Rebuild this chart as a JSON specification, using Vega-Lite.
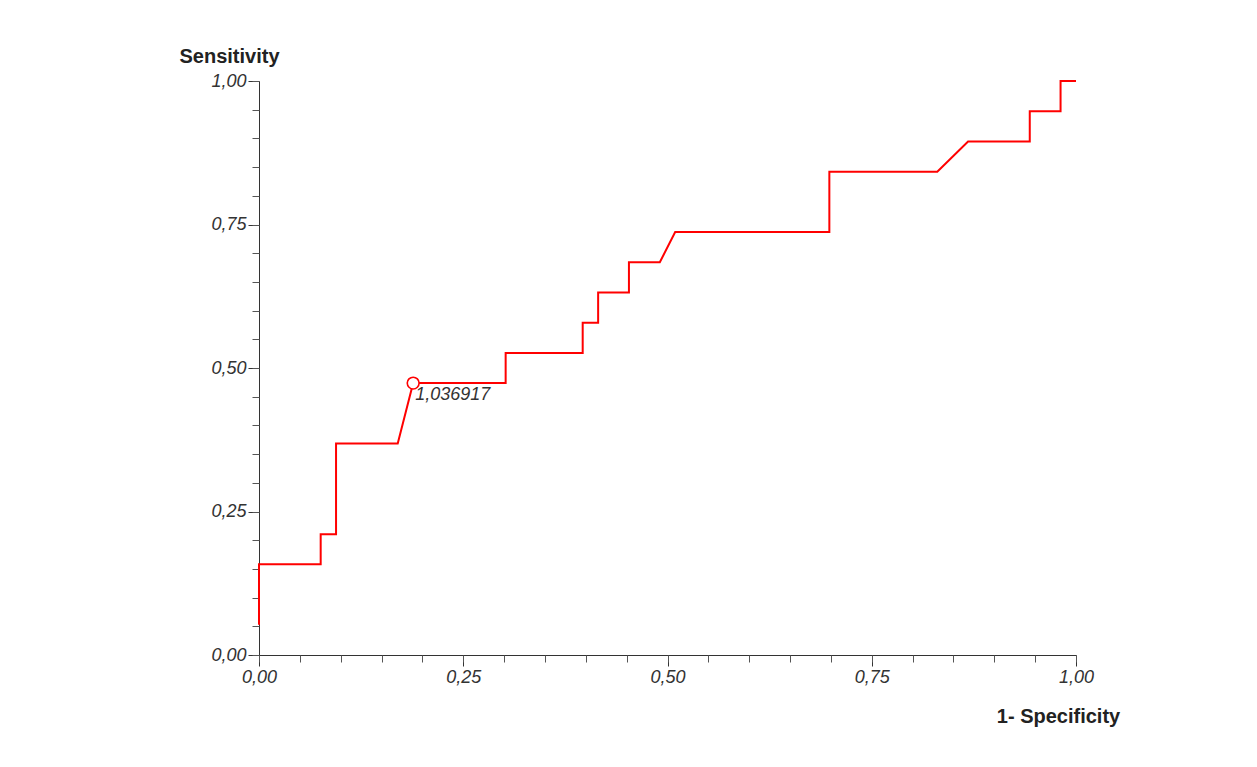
{
  "$schema": "https://vega.github.io/schema/vega-lite/v6.json",
  "width": 817,
  "height": 574,
  "autosize": "none",
  "padding": {"left": 259, "top": 81, "right": 181, "bottom": 112},
  "background": "white",
  "config": {
    "view": {"stroke": null},
    "font": "Liberation Sans",
    "axis": {"grid": false}
  },
  "datasets": {
    "roc": [
      {"step": 1, "fpr": 0.0, "sens": 0.0526},
      {"step": 2, "fpr": 0.0, "sens": 0.1579},
      {"step": 3, "fpr": 0.0755, "sens": 0.1579},
      {"step": 4, "fpr": 0.0755, "sens": 0.2105},
      {"step": 5, "fpr": 0.0943, "sens": 0.2105},
      {"step": 6, "fpr": 0.0943, "sens": 0.3684},
      {"step": 7, "fpr": 0.1698, "sens": 0.3684},
      {"step": 8, "fpr": 0.1887, "sens": 0.4737},
      {"step": 9, "fpr": 0.3019, "sens": 0.4737},
      {"step": 10, "fpr": 0.3019, "sens": 0.5263},
      {"step": 11, "fpr": 0.3962, "sens": 0.5263},
      {"step": 12, "fpr": 0.3962, "sens": 0.5789},
      {"step": 13, "fpr": 0.4151, "sens": 0.5789},
      {"step": 14, "fpr": 0.4151, "sens": 0.6316},
      {"step": 15, "fpr": 0.4528, "sens": 0.6316},
      {"step": 16, "fpr": 0.4528, "sens": 0.6842},
      {"step": 17, "fpr": 0.4906, "sens": 0.6842},
      {"step": 18, "fpr": 0.5094, "sens": 0.7368},
      {"step": 19, "fpr": 0.6981, "sens": 0.7368},
      {"step": 20, "fpr": 0.6981, "sens": 0.8421},
      {"step": 21, "fpr": 0.8302, "sens": 0.8421},
      {"step": 22, "fpr": 0.8679, "sens": 0.8947},
      {"step": 23, "fpr": 0.9434, "sens": 0.8947},
      {"step": 24, "fpr": 0.9434, "sens": 0.9474},
      {"step": 25, "fpr": 0.9811, "sens": 0.9474},
      {"step": 26, "fpr": 0.9811, "sens": 1.0},
      {"step": 27, "fpr": 1.0, "sens": 1.0}
    ],
    "cutoff": [
      {"fpr": 0.1887, "sens": 0.4737, "label": "1,036917"}
    ]
  },
  "resolve": {"scale": {"x": "shared", "y": "shared"}, "axis": {"x": "independent", "y": "independent"}},
  "layer": [
    {
      "data": {"name": "roc"},
      "mark": {"type": "line", "color": "#ff0000", "strokeWidth": 2, "interpolate": "linear"},
      "encoding": {
        "order": {"field": "step", "type": "quantitative"},
        "x": {
          "field": "fpr", "type": "quantitative",
          "scale": {"domain": [0, 1], "nice": false, "zero": false},
          "axis": {
            "orient": "bottom",
            "values": [0, 0.25, 0.5, 0.75, 1],
            "labelExpr": "replace(format(datum.value, '.2f'), '.', ',')",
            "tickSize": 11, "tickColor": "#333333", "domainColor": "#333333",
            "labelFontStyle": "italic", "labelFontSize": 18, "labelColor": "#333333",
            "labelPadding": 2, "labelFlush": false,
            "title": "1- Specificity", "titleFontSize": 20, "titleFontWeight": "bold",
            "titleColor": "#222222", "titleX": 799, "titleY": 67,
            "titleAlign": "center", "titleBaseline": "alphabetic"
          }
        },
        "y": {
          "field": "sens", "type": "quantitative",
          "scale": {"domain": [0, 1], "nice": false, "zero": false},
          "axis": {
            "orient": "left",
            "values": [0, 0.25, 0.5, 0.75, 1],
            "labelExpr": "replace(format(datum.value, '.2f'), '.', ',')",
            "tickSize": 11, "tickColor": "#333333", "domainColor": "#333333",
            "labelFontStyle": "italic", "labelFontSize": 18, "labelColor": "#333333",
            "labelPadding": 2, "labelFlush": false,
            "title": "Sensitivity", "titleFontSize": 20, "titleFontWeight": "bold",
            "titleColor": "#222222", "titleAngle": 0, "titleX": -30, "titleY": -19,
            "titleAlign": "center", "titleBaseline": "alphabetic"
          }
        }
      }
    },
    {
      "data": {"name": "cutoff"},
      "mark": {"type": "point", "shape": "circle", "filled": false, "fill": "white", "fillOpacity": 1, "stroke": "#ff0000", "strokeWidth": 1.6, "size": 140, "opacity": 1},
      "encoding": {
        "x": {
          "field": "fpr", "type": "quantitative",
          "axis": {
            "orient": "bottom",
            "values": [0, 0.05, 0.1, 0.15, 0.2, 0.25, 0.3, 0.35, 0.4, 0.45, 0.5, 0.55, 0.6, 0.65, 0.7, 0.75, 0.8, 0.85, 0.9, 0.95, 1],
            "labels": false, "domain": false, "tickSize": 7, "tickColor": "#555555", "title": null
          }
        },
        "y": {
          "field": "sens", "type": "quantitative",
          "axis": {
            "orient": "left",
            "values": [0, 0.05, 0.1, 0.15, 0.2, 0.25, 0.3, 0.35, 0.4, 0.45, 0.5, 0.55, 0.6, 0.65, 0.7, 0.75, 0.8, 0.85, 0.9, 0.95, 1],
            "labels": false, "domain": false, "tickSize": 7, "tickColor": "#555555", "title": null
          }
        }
      }
    },
    {
      "data": {"name": "cutoff"},
      "mark": {"type": "text", "align": "left", "baseline": "alphabetic", "dx": 2, "dy": 17, "fontSize": 18, "fontStyle": "italic", "color": "#333333", "font": "Liberation Sans"},
      "encoding": {
        "x": {"field": "fpr", "type": "quantitative", "axis": null},
        "y": {"field": "sens", "type": "quantitative", "axis": null},
        "text": {"field": "label", "type": "nominal"}
      }
    }
  ]
}
